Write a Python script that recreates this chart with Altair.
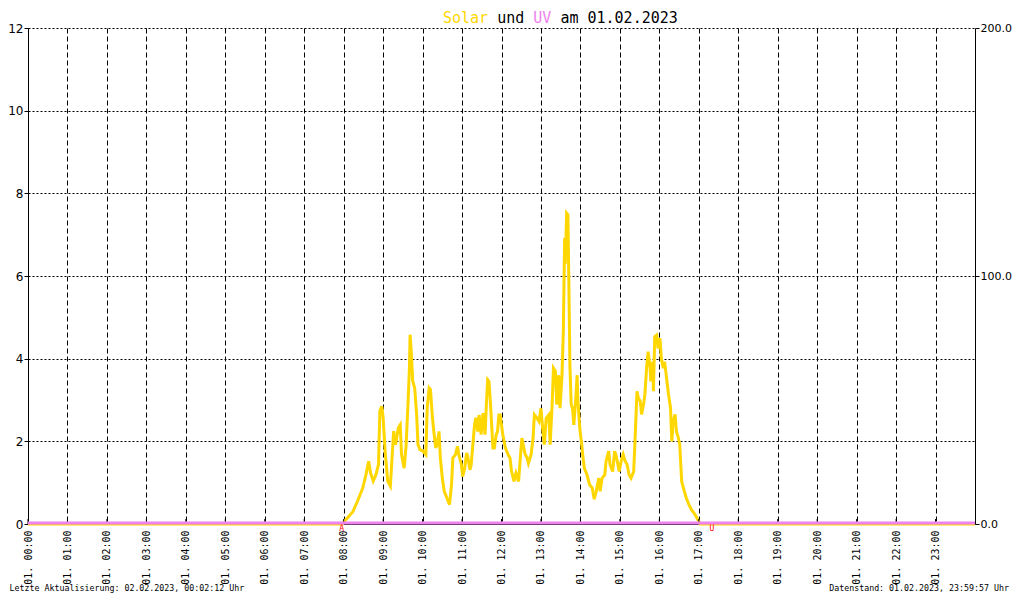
import altair as alt
import pandas as pd

# ---------------- data ----------------
solar_times = [
    "00:00", "07:58", "08:00", "08:06", "08:14", "08:21", "08:29", "08:34", "08:38", "08:41",
    "08:45", "08:49", "08:53", "08:55", "08:58", "09:00", "09:03", "09:07", "09:11", "09:13",
    "09:16", "09:19", "09:23", "09:26", "09:28", "09:32", "09:35", "09:38", "09:40", "09:41",
    "09:43", "09:45", "09:48", "09:51", "09:53", "09:56", "10:00", "10:05", "10:07", "10:10",
    "10:12", "10:15", "10:17", "10:20", "10:22", "10:25", "10:27", "10:30", "10:33", "10:38",
    "10:41", "10:44", "10:46", "10:50", "10:53", "10:55", "10:59", "11:01", "11:04", "11:07",
    "11:09", "11:12", "11:14", "11:16", "11:19", "11:21", "11:24", "11:26", "11:29", "11:32",
    "11:35", "11:37", "11:39", "11:41", "11:43", "11:45", "11:47", "11:49", "11:52", "11:54",
    "11:56", "11:58", "12:00", "12:02", "12:06", "12:10", "12:13", "12:15", "12:19", "12:22",
    "12:26", "12:29", "12:31", "12:34", "12:36", "12:39", "12:41", "12:45", "12:48", "12:50",
    "12:54", "12:57", "13:00", "13:03", "13:05", "13:08", "13:12", "13:14", "13:17", "13:19",
    "13:22", "13:24", "13:27", "13:29", "13:32", "13:34", "13:36", "13:37", "13:39", "13:41",
    "13:43", "13:44", "13:46", "13:48", "13:50", "13:53", "13:55", "13:56", "13:59", "14:02",
    "14:04", "14:06", "14:10", "14:14", "14:18", "14:21", "14:24", "14:28", "14:30", "14:33",
    "14:37", "14:39", "14:43", "14:45", "14:49", "14:52", "14:54", "14:57", "14:59", "15:02",
    "15:05", "15:08", "15:11", "15:14", "15:17", "15:21", "15:23", "15:26", "15:28", "15:31",
    "15:33", "15:36", "15:38", "15:41", "15:43", "15:46", "15:47", "15:50", "15:51", "15:53",
    "15:56", "15:58", "16:01", "16:03", "16:06", "16:08", "16:11", "16:14", "16:17", "16:19",
    "16:21", "16:24", "16:26", "16:29", "16:31", "16:34", "16:38", "16:41", "16:45", "16:49",
    "16:53", "16:56", "17:00", "17:02", "24:00",
]
solar_values = [
    0.0, 0.0, 0.05, 0.15, 0.30, 0.55, 0.87, 1.20, 1.52, 1.23,
    1.04, 1.19, 1.44, 2.73, 2.85, 2.57, 1.77, 1.04, 0.92, 1.44,
    2.25, 1.92, 2.32, 2.40, 1.68, 1.35, 1.92, 2.97, 3.77, 4.58,
    4.10, 3.46, 3.29, 2.64, 1.92, 1.80, 1.77, 1.68, 2.81, 3.29,
    3.25, 2.57, 2.25, 1.84, 1.92, 2.24, 1.60, 1.11, 0.79, 0.59,
    0.47, 0.95, 1.60, 1.68, 1.88, 1.68, 1.44, 1.15, 1.35, 1.72,
    1.60, 1.31, 1.44, 1.84, 2.40, 2.57, 2.24, 2.64, 2.16, 2.68,
    2.16, 2.89, 3.49, 3.45, 2.97, 2.40, 1.84, 1.84, 2.16, 2.24,
    2.64, 2.64, 2.40, 2.16, 1.84, 1.68, 1.60, 1.30, 1.03, 1.23,
    1.03, 1.68, 2.08, 1.84, 1.68, 1.60, 1.47, 1.68, 2.08, 2.64,
    2.56, 2.48, 2.80, 2.24, 1.92, 2.56, 2.64, 1.92, 2.89, 3.77,
    3.69, 2.89, 3.60, 2.80, 3.60, 4.65, 6.92, 6.30, 7.52, 7.48,
    5.14, 3.85, 2.89, 2.80, 2.40, 3.05, 3.60, 3.05, 2.32, 1.92,
    1.60, 1.35, 1.19, 0.95, 0.87, 0.60, 0.79, 1.11, 0.79, 1.11,
    1.19, 1.52, 1.76, 1.44, 1.27, 1.76, 1.68, 1.44, 1.27, 1.52,
    1.68, 1.52, 1.44, 1.19, 1.11, 1.27, 2.00, 3.21, 3.05, 2.97,
    2.65, 2.89, 3.13, 3.85, 4.17, 3.77, 3.45, 3.93, 3.21, 4.53,
    4.57, 4.25, 4.49, 4.01, 3.77, 3.93, 3.53, 3.13, 2.81, 2.00,
    2.48, 2.65, 2.24, 2.08, 1.92, 1.03, 0.79, 0.63, 0.47, 0.34,
    0.26, 0.18, 0.06, 0.0, 0.0,
]
uv_times = ["00:00", "24:00"]
uv_values = [0.0, 0.0]

hour_ticks = list(range(0, 24))            # 00:00 .. 23:00
left_ticks = [0, 2, 4, 6, 8, 10, 12]
right_ticks = [0, 100, 200]

sun_times = ["07:57", "17:20"]
sun_labels = ["A", "U"]

title_text = "Solar und UV am 01.02.2023"
title_parts = ["Solar", "und", "UV", "am 01.02.2023"]
title_colors = ["#FFD700", "#000000", "#EE82EE", "#000000"]
footer_left = "Letzte Aktualisierung: 02.02.2023, 00:02:12 Uhr"
footer_right = "Datenstand: 01.02.2023, 23:59:57 Uhr"

assert len(solar_times) == len(solar_values)


def to_min(s):
    h, m = s.split(":")
    return int(h) * 60 + int(m)


# ---------------- layout ----------------
W, H = 947, 496
PAD = {"left": 20, "top": 20, "right": 37, "bottom": 70}
MONO = "DejaVu Sans Mono"
SANS = "DejaVu Sans"

solar_df = pd.DataFrame({"t": [to_min(s) for s in solar_times], "v": solar_values})
uv_df = pd.DataFrame({"t": [to_min(s) for s in uv_times], "v": uv_values})
ticks_df = pd.DataFrame({"t": [h * 60 for h in hour_ticks]})
sun_df = pd.DataFrame({"t": [to_min(s) for s in sun_times], "label": sun_labels})

x_scale = alt.Scale(domain=[0, 1440], nice=False, zero=False)
left_scale = alt.Scale(domain=[0, 12], nice=False)
right_scale = alt.Scale(domain=[0, 200], nice=False)

label_expr = ("'01. ' + (floor(datum.value/60) < 10 ? '0' : '') + "
              "floor(datum.value/60) + ':00'")

x_axis = alt.Axis(
    values=[h * 60 for h in hour_ticks], labelExpr=label_expr, labelAngle=270,
    labelFont=MONO, labelFontSize=10, labelColor="black", labelPadding=6,
    labelFlush=False, labelOverlap=False, ticks=False,
    domain=True, domainColor="black", domainWidth=1,
    grid=True, gridColor="black", gridDash=[5, 3], gridOpacity=1, gridWidth=1,
    title=None,
)
left_axis = alt.Axis(
    values=left_ticks, labelFont=SANS, labelFontSize=12, labelColor="black",
    labelPadding=1, tickSize=4, tickColor="black", domainColor="black",
    grid=True, gridColor="black", gridDash=[2, 2], gridOpacity=1, gridWidth=1,
    labelFlush=False, title=None,
)
right_axis = alt.Axis(
    orient="right", values=right_ticks, format=".1f", labelFont=SANS,
    labelFontSize=11, labelColor="black", labelPadding=1, tickSize=4,
    tickColor="black", domainColor="black", grid=False, labelFlush=False,
    title=None,
)

solar = alt.Chart(solar_df).mark_line(color="#FFD700", strokeWidth=3).encode(
    x=alt.X("t:Q", scale=x_scale, axis=x_axis),
    y=alt.Y("v:Q", scale=left_scale, axis=left_axis),
)
inner_ticks = alt.Chart(ticks_df).mark_rule(color="black", strokeWidth=1).encode(
    x=alt.X("t:Q", scale=x_scale),
    y=alt.value(H - 5), y2=alt.value(H),
)
markers = alt.Chart(sun_df).mark_text(
    color="red", font=MONO, fontSize=8, baseline="middle", align="center"
).encode(x=alt.X("t:Q", scale=x_scale), y=alt.value(H + 5), text="label:N")

left_layer = alt.layer(solar, inner_ticks, markers)

uv = alt.Chart(uv_df).mark_line(color="#EE82EE", strokeWidth=3, yOffset=-1).encode(
    x=alt.X("t:Q", scale=x_scale),
    y=alt.Y("v:Q", scale=right_scale, axis=right_axis),
)

# title pieces (monospace, coloured words)
char_w = 15 * 0.602
title_x0 = 415
texts = []
for part, col in zip(title_parts, title_colors):
    off = title_text.index(part)
    texts.append(
        alt.Chart(pd.DataFrame({"s": [part]})).mark_text(
            font=MONO, fontSize=15, color=col, align="left", baseline="alphabetic"
        ).encode(text="s:N", x=alt.value(title_x0 + off * char_w), y=alt.value(-5))
    )
texts.append(
    alt.Chart(pd.DataFrame({"s": [footer_left]})).mark_text(
        font=MONO, fontSize=8.3, color="black", align="left", baseline="middle"
    ).encode(text="s:N", x=alt.value(-18.5), y=alt.value(H + 65))
)
texts.append(
    alt.Chart(pd.DataFrame({"s": [footer_right]})).mark_text(
        font=MONO, fontSize=8.3, color="black", align="right", baseline="middle"
    ).encode(text="s:N", x=alt.value(981), y=alt.value(H + 65))
)

chart = alt.layer(left_layer, uv, *texts).resolve_scale(y="independent").properties(
    width=W, height=H, padding=PAD,
    autosize=alt.AutoSizeParams(type="none"),
    background="white",
).configure_view(strokeWidth=0)

chart.save("out.html", embed_options={"renderer": "svg", "actions": False})
